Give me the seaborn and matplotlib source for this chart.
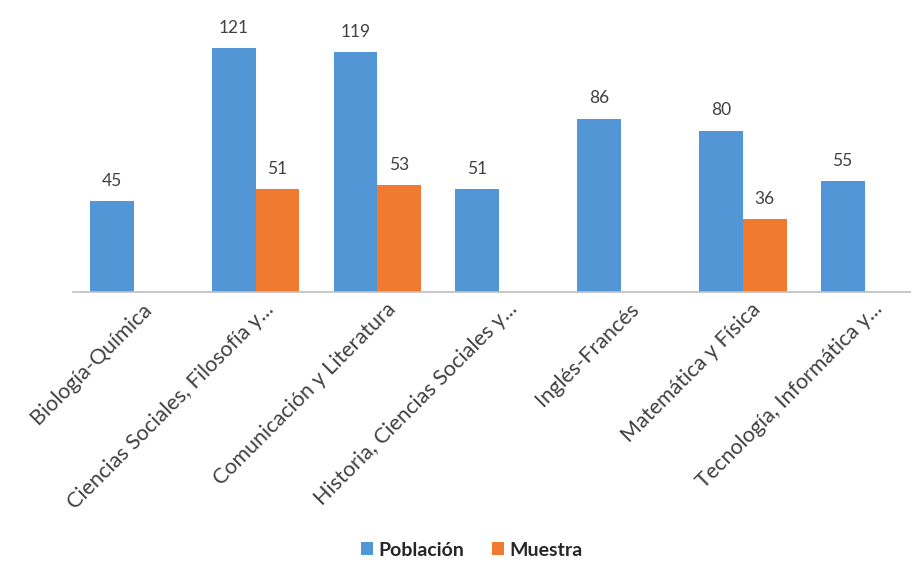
import numpy as np
import pandas as pd
import seaborn as sns
import matplotlib.pyplot as plt
from matplotlib.transforms import ScaledTranslation

categories = [
    "Biología-Química",
    "Ciencias Sociales, Filosofía y...",
    "Comunicación y Literatura",
    "Historia, Ciencias Sociales y...",
    "Inglés-Francés",
    "Matemática y Física",
    "Tecnología, Informática y...",
]
poblacion = [45, 121, 119, 51, 86, 80, 55]
muestra = [np.nan, 51, 53, np.nan, np.nan, 36, np.nan]
series_names = ["Población", "Muestra"]
colors = ["#5396D6", "#EF7A30"]

df = pd.DataFrame({
    "carrera": categories * 2,
    "serie": [series_names[0]] * len(categories) + [series_names[1]] * len(categories),
    "valor": poblacion + muestra,
})

sns.set_style("white")
plt.rcParams["font.family"] = ["Lato", "DejaVu Sans"]

fig = plt.figure(figsize=(9.12, 5.72), dpi=100)
ax = fig.add_axes([73 / 912, 280 / 572, 839 / 912, 272 / 572])

sns.barplot(data=df, x="carrera", y="valor", hue="serie", order=categories,
            hue_order=series_names, palette=colors, width=0.72, saturation=1,
            linewidth=0, ax=ax, legend=True)

for cont in ax.containers:
    labels = ["" if np.isnan(v) else f"{v:.0f}" for v in cont.datavalues]
    ax.bar_label(cont, labels=labels, padding=9, fontsize=12.5, color="#404040")

ax.set_ylim(0, 135)
ax.set_xlim(-0.5, 6.39)
ax.set_yticks([])
ax.set_xlabel("")
ax.set_ylabel("")
for s in ["top", "right", "left"]:
    ax.spines[s].set_visible(False)
ax.spines["bottom"].set_color("#BFBFBF")
ax.spines["bottom"].set_linewidth(1.2)
ax.tick_params(axis="x", length=0, pad=5)
ax.set_xticks(range(len(categories)))
ax.set_xticklabels(categories, rotation=45, ha="right", rotation_mode="anchor",
                   fontsize=15.5, color="#404040")
# shift labels a bit right, like the Excel original
shift = ScaledTranslation(0.08, 0, fig.dpi_scale_trans)
for lbl in ax.get_xticklabels():
    lbl.set_transform(lbl.get_transform() + shift)

handles, labels = ax.get_legend_handles_labels()
ax.legend_.remove()
leg = fig.legend(handles, labels, loc="center", bbox_to_anchor=(472 / 912, 1 - 550 / 572),
                 ncol=2, frameon=False, handlelength=0.6, handleheight=0.6,
                 handletextpad=0.3, columnspacing=1.4,
                 prop={"weight": "bold", "size": 14})
for t in leg.get_texts():
    t.set_color("#262626")

fig.savefig("out.png", dpi=100)
